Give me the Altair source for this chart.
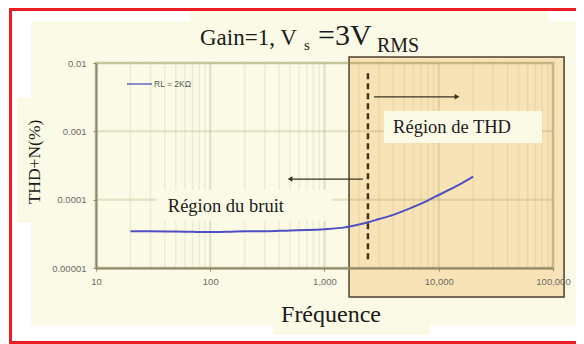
import altair as alt
import pandas as pd

# ---- data ----
freq = [20, 30, 50, 70, 100, 150, 200, 300, 500, 700, 1000, 1500, 2000, 2400,
        3000, 4000, 5000, 6300, 8000, 10000, 12500, 16000, 20000]
thd = [3.45e-5, 3.45e-5, 3.42e-5, 3.38e-5, 3.35e-5, 3.40e-5, 3.45e-5, 3.45e-5,
       3.55e-5, 3.60e-5, 3.70e-5, 3.93e-5, 4.33e-5, 4.67e-5, 5.20e-5, 6.00e-5,
       6.90e-5, 8.10e-5, 9.70e-5, 1.17e-4, 1.41e-4, 1.75e-4, 2.18e-4]
series_name = "RL =  2KΩ"

x_ticks = [10, 100, 1000, 10000, 100000]
y_ticks = [0.00001, 0.0001, 0.001, 0.01]
x_major_grid = [100, 1000, 10000]
x_minor_grid = [m * d for d in [10, 100, 1000, 10000] for m in range(2, 10)]
y_grid = [0.0001, 0.001]

thd_region = [1640, 125000]        # shaded "Région de THD" span (Hz)
boundary_freq = 2400               # dashed boundary
boundary_y = [7.1e-3, 1.22e-5]
arrow_right = dict(x=2710, x2=14450, y=3.2e-3)
arrow_left = dict(x=2170, x2=499, y=2.0e-4)
label_thd = dict(text="Région de THD", x=13060, y=1.16e-3, bx=3320, bx2=80200, by=1.99e-3, by2=6.75e-4)
label_noise = dict(text="Région du bruit", x=137, y=8.07e-5, bx=34, bx2=1160, by=1.38e-4, by2=4.9e-5)

title_parts = ["Gain=1, V", "s", "=3V", "RMS"]
x_title = "Fréquence"
y_title = "THD+N(%)"

# ---- layout ----
OX, OY = 96, 63          # page position of plot origin
W, H = 457, 205
SERIF = "Liberation Serif, Times New Roman, serif"
SANS = "Liberation Sans, Arial, sans-serif"
CREAM = "#fafae6"

one = pd.DataFrame({"a": [0]})

xscale = alt.Scale(type="log", domain=[10, 100000], nice=False)
yscale = alt.Scale(type="log", domain=[0.00001, 0.01], nice=False)
xaxis = alt.Axis(values=x_ticks, format=",.0f", grid=False, domainColor="#8f8a6a",
                 domainWidth=2, tickColor="#8f8a6a", tickSize=3, labelPadding=5,
                 labelFont=SANS, labelFontSize=9.5, labelColor="#6a6a6a", zindex=1,
                 title=None, labelFlush=False)
yaxis = alt.Axis(values=y_ticks, format=".5~f", grid=False, domainColor="#8f8a6a",
                 domainWidth=2, tickColor="#8f8a6a", tickSize=3, labelPadding=7,
                 labelFont=SANS, labelFontSize=9.5, labelColor="#6a6a6a", zindex=1,
                 title=None)


def X(f):
    return alt.X(f, type="quantitative", scale=xscale, axis=xaxis)


def Y(f):
    return alt.Y(f, type="quantitative", scale=yscale, axis=yaxis)


def prect(x1, y1, x2, y2, color):
    return alt.Chart(one).mark_rect(color=color).encode(
        x=alt.value(x1 - OX), x2=alt.value(x2 - OX),
        y=alt.value(y1 - OY), y2=alt.value(y2 - OY))


def ptext(txt, x, y, size, font=SERIF, color="#1a1a1a", align="left", angle=0, baseline="alphabetic"):
    return alt.Chart(one).mark_text(text=txt, font=font, fontSize=size, color=color,
                                    align=align, baseline=baseline, angle=angle).encode(
        x=alt.value(x - OX), y=alt.value(y - OY))


layers = []
# cream background panels
layers += [prect(31, 21, 590, 325, CREAM), prect(190, 10, 548, 22, CREAM),
           prect(17, 98, 32, 223, CREAM), prect(273, 324, 430, 335, CREAM)]
# red frame
layers += [prect(9, 8, 590, 11, "#ec1c24"), prect(9, 8, 12, 345, "#ec1c24"),
           prect(9, 341, 590, 345, "#ec1c24")]

# shaded THD region
shade = pd.DataFrame({"x": [thd_region[0]], "x2": [thd_region[1]]})
layers.append(alt.Chart(shade).mark_rect(fill="#f8e3b6", stroke="#4d4030", strokeWidth=1.5).encode(
    x=X("x"), x2="x2", y=alt.value(57 - OY), y2=alt.value(297 - OY)))

# grid
layers.append(alt.Chart(pd.DataFrame({"f": x_minor_grid})).mark_rule(
    color="#8c8246", opacity=0.11, strokeWidth=1.5).encode(x=X("f")))
layers.append(alt.Chart(pd.DataFrame({"f": x_major_grid})).mark_rule(
    color="#8c8246", opacity=0.22, strokeWidth=2).encode(x=X("f")))
layers.append(alt.Chart(pd.DataFrame({"v": y_grid})).mark_rule(
    color="#8c8246", opacity=0.22, strokeWidth=2).encode(y=Y("v")))
# plot frame
frame = pd.DataFrame({"x": [10], "x2": [100000], "y": [0.01], "y2": [0.00001]})
layers.append(alt.Chart(frame).mark_rect(fill="transparent", stroke="#8c8246",
                                         strokeOpacity=0.45, strokeWidth=2.5).encode(
    x=X("x"), x2="x2", y=Y("y"), y2="y2"))

# label boxes
boxes = pd.DataFrame({"x": [label_thd["bx"], label_noise["bx"]], "x2": [label_thd["bx2"], label_noise["bx2"]],
                      "y": [label_thd["by"], label_noise["by"]], "y2": [label_thd["by2"], label_noise["by2"]]})
layers.append(alt.Chart(boxes).mark_rect(color=CREAM).encode(x=X("x"), x2="x2", y=Y("y"), y2="y2"))

# curve
df = pd.DataFrame({"f": freq, "v": thd})
layers.append(alt.Chart(df).mark_line(color="#4f4fc4", strokeWidth=2, interpolate="monotone").encode(
    x=X("f"), y=Y("v")))

# dashed boundary
bd = pd.DataFrame({"x": [boundary_freq], "y": [boundary_y[0]], "y2": [boundary_y[1]]})
layers.append(alt.Chart(bd).mark_rule(color="#3f3220", strokeWidth=2.5, strokeDash=[6, 4]).encode(
    x=X("x"), y=Y("y"), y2="y2"))

# arrows
arr = pd.DataFrame([arrow_right, arrow_left])
layers.append(alt.Chart(arr).mark_rule(color="#3a3020", strokeWidth=1.3).encode(
    x=X("x"), x2="x2", y=Y("y")))
heads = pd.DataFrame({"x": [arrow_right["x2"], arrow_left["x2"]], "y": [arrow_right["y"], arrow_left["y"]],
                      "shape": ["triangle-right", "triangle-left"]})
layers.append(alt.Chart(heads).mark_point(filled=True, color="#3a3020", opacity=1, size=30).encode(
    x=X("x"), y=Y("y"), shape=alt.Shape("shape:N", scale=None, legend=None)))

# region labels
labs = pd.DataFrame([label_thd, label_noise])
layers.append(alt.Chart(labs).mark_text(font=SERIF, fontSize=18.5, color="#1a1a1a").encode(
    x=X("x"), y=Y("y"), text="text:N"))

# legend
layers.append(alt.Chart(one).mark_rule(color="#4f4fc4", strokeWidth=1.3).encode(
    x=alt.value(127 - OX), x2=alt.value(152 - OX), y=alt.value(84 - OY)))
layers.append(ptext(series_name, 154, 87, 8.5, font=SANS, color="#555555"))

# titles
layers += [ptext(title_parts[0], 200, 45, 23),
           ptext(title_parts[1], 304, 50, 15),
           ptext(title_parts[2], 318, 45, 30),
           ptext(title_parts[3], 377, 52, 20)]
layers.append(ptext(x_title, 331, 322, 24, align="center"))
layers.append(ptext(y_title, 35, 162, 17.5, align="center", angle=270, baseline="middle"))

chart = alt.layer(*layers).properties(
    width=W, height=H,
    autosize=alt.AutoSizeParams(type="none"),
    padding={"left": 88, "top": 55, "right": 23, "bottom": 76},
    background="white",
).configure_view(strokeWidth=0)

chart.save("out.html", embed_options={"renderer": "svg", "actions": False})
